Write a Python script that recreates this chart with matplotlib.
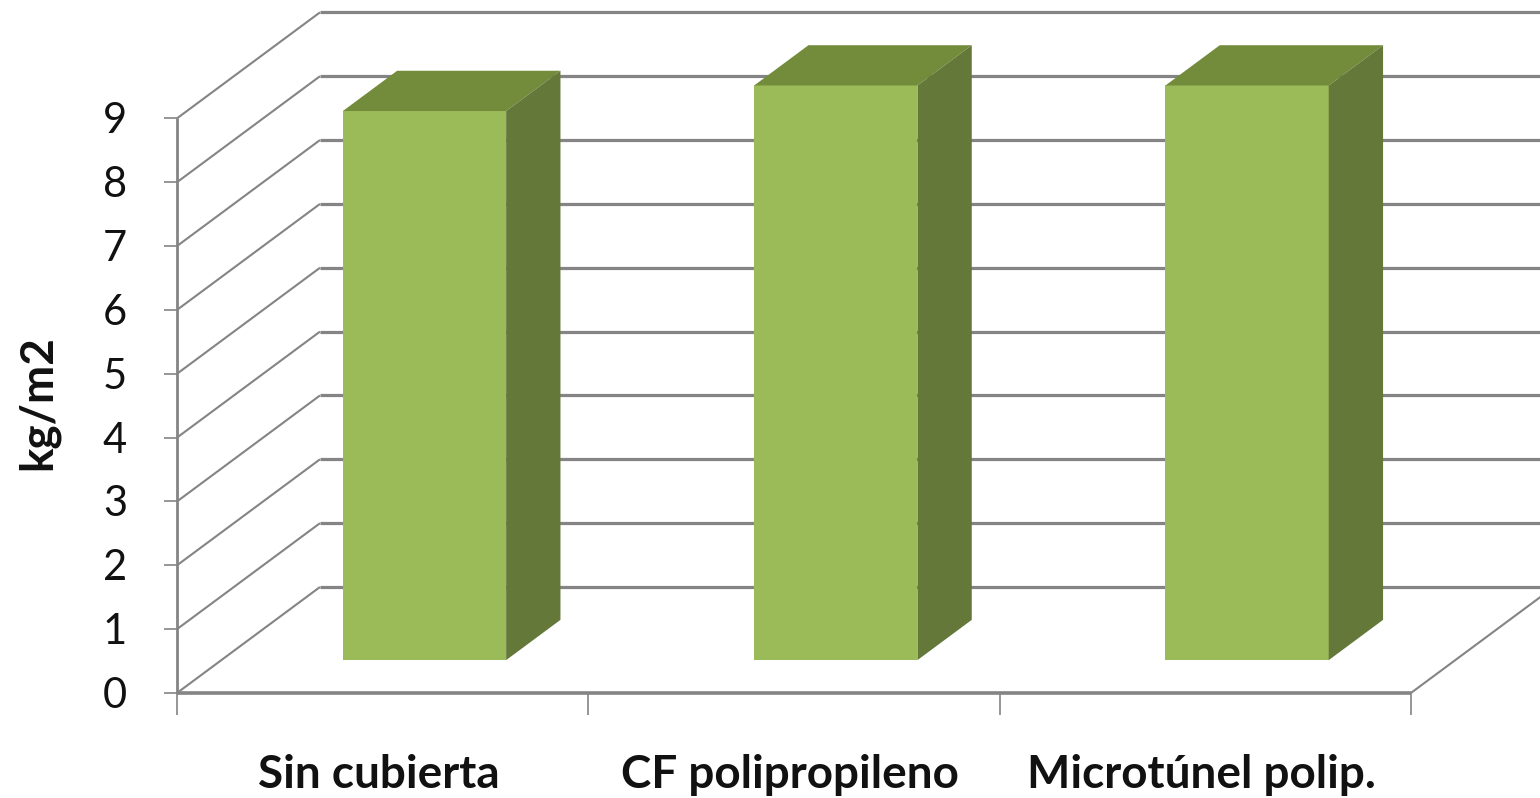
import matplotlib
matplotlib.use('Agg')
from matplotlib import pyplot as plt

categories = ['Sin cubierta', 'CF polipropileno', 'Microtúnel polip.']
values = [8.6, 9.0, 9.0]
y_ticks = [0, 1, 2, 3, 4, 5, 6, 7, 8, 9]
y_label = 'kg/m2'

face_col = '#9bbb59'
top_col = '#728c3c'
side_col = '#64783a'
grid_col = '#848484'

W, H = 1540, 798
x0_px, y0_px = 177, 693     # origin of the axes
cat_px, unit_px = 411.3, 63.85
depth_x, depth_y = 143 / cat_px, 106 / unit_px      # shear of the 3d box
bar_w = 0.397
bar_shift = -2.5 / cat_px
d_front, d_back = 0.31, 0.69

plt.rcParams['font.family'] = ['Lato', 'DejaVu Sans']
fig = plt.figure(figsize=(W / 100, H / 100), dpi=100)
ax = fig.add_axes([0, 0, 1, 1])
ax.set_xlim(-x0_px / cat_px, (W - x0_px) / cat_px)
ax.set_ylim((y0_px - H) / unit_px, y0_px / unit_px)
ax.axis('off')


def proj(x, y, d):
	return x + d * depth_x, y + d * depth_y


def line(p, q, lw, z=1):
	ax.plot([p[0], q[0]], [p[1], q[1]], color=grid_col, lw=lw, zorder=z, solid_capstyle='butt')


def poly(pts, col):
	ax.fill([p[0] for p in pts], [p[1] for p in pts], color=col, lw=0, zorder=3)


n = len(categories)

# walls
for k in y_ticks:
	line(proj(0, k, 0), proj(0, k, 1), 1.5)
	line(proj(0, k, 1), proj(n, k, 1), 2.3)
	line((-13 / cat_px, k), (0, k), 1.2)
line((0, 0), (0, y_ticks[-1]), 2.0, 2)
line((0, 0), (n, 0), 2.6, 2)
line((n, 0), proj(n, 0, 1), 1.5)
for i in range(n + 1):
	line((i, 0), (i, -22 / unit_px), 1.2)

# bars
for i in range(n):
	l = i + 0.5 - bar_w / 2 + bar_shift
	r = l + bar_w
	v = values[i]
	poly([proj(l, 0, d_front), proj(r, 0, d_front), proj(r, v, d_front), proj(l, v, d_front)], face_col)
	poly([proj(l, v, d_front), proj(r, v, d_front), proj(r, v, d_back), proj(l, v, d_back)], top_col)
	poly([proj(r, 0, d_front), proj(r, 0, d_back), proj(r, v, d_back), proj(r, v, d_front)], side_col)

# text
for k in y_ticks:
	ax.text(-50 / cat_px, k - 3 / unit_px, str(k), ha='right', va='center', fontsize=30, color='#111111')
for i in range(n):
	ax.text(i + 0.5 - 4 / cat_px, -82 / unit_px, categories[i], ha='center', va='center',
		fontsize=33, fontweight='bold', color='#111111')
ax.text(-139 / cat_px, 4.55, y_label, rotation=90, ha='center', va='center',
	fontsize=33, fontweight='bold', color='#111111')

fig.savefig('out.png', dpi=100)
